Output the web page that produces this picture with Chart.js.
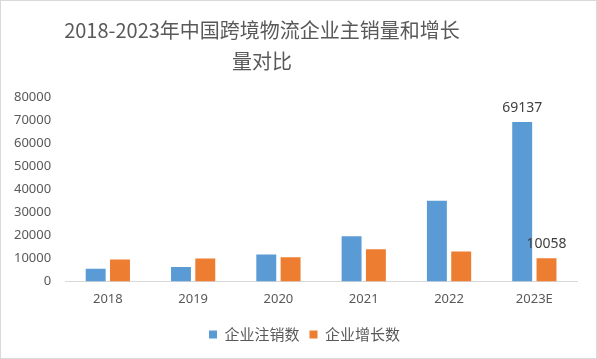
<!DOCTYPE html>
<html>
<head>
<meta charset="utf-8">
<script src="https://cdn.jsdelivr.net/npm/chart.js@4/dist/chart.umd.min.js"></script>
<style>
  body { margin: 0; background: #fff; }
  #wrap { position: relative; width: 597px; height: 359px; }
  #frame { position: absolute; left: 0; top: 0; width: 597px; height: 359px; box-sizing: border-box; border: 1px solid #d9d9d9; pointer-events: none; }
</style>
</head>
<body>
<div id="wrap">
  <canvas id="mainChart" width="597" height="359"></canvas>
  <div id="frame"></div>
</div>
<script>
const titleLines = ['2018-2023年中国跨境物流企业主销量和增长', '量对比'];
const years = ['2018', '2019', '2020', '2021', '2022', '2023E'];
const cancelled = [5500, 6200, 11700, 19600, 35000, 69137];
const added = [9500, 9900, 10500, 14000, 13000, 10058];
const yTicks = [0, 10000, 20000, 30000, 40000, 50000, 60000, 70000, 80000];

const grey = '#595959';
const numFont = "'Noto Sans', 'Noto Sans CJK SC', sans-serif";
const cjkFont = "'Noto Sans CJK SC', sans-serif";

// title is drawn by hand: in the reference it sits left of centre
const titlePlugin = {
    id: 'titleLines',
    afterDraw(chart) {
        const c = chart.ctx;
        c.save();
        c.fillStyle = grey;
        c.font = '20px ' + cjkFont;
        c.textAlign = 'center';
        c.textBaseline = 'middle';
        c.fillText(titleLines[0], 262, 30);
        c.fillText(titleLines[1], 262, 61);
        c.restore();
    }
};

// nudge the legend a little to the right, as in the reference
const legendShift = {
    id: 'legendShift',
    afterLayout(chart) {
        chart.legend.left += 16;
        chart.legend.right += 16;
    }
};

// value labels only on the last category
const lastLabels = {
    id: 'lastLabels',
    afterDatasetsDraw(chart) {
        const c = chart.ctx;
        const last = years.length - 1;
        c.save();
        c.fillStyle = '#404040';
        c.font = '14px ' + numFont;
        c.textAlign = 'center';
        c.textBaseline = 'bottom';
        chart.data.datasets.forEach((ds, i) => {
            const bar = chart.getDatasetMeta(i).data[last];
            c.fillText(String(ds.data[last]), bar.x, bar.y - 7);
        });
        c.restore();
    }
};

const ctx = document.getElementById('mainChart').getContext('2d');

const mainChart = new Chart(ctx, {
    type: 'bar',
    data: {
        labels: years,
        datasets: [{
            label: '企业注销数',
            data: cancelled,
            backgroundColor: '#5B9BD5',
            categoryPercentage: 0.57,
            barPercentage: 0.82
        }, {
            label: '企业增长数',
            data: added,
            backgroundColor: '#ED7D31',
            categoryPercentage: 0.57,
            barPercentage: 0.82
        }]
    },
    options: {
        responsive: false,
        animation: false,
        layout: {
            padding: { top: 97, left: 0, right: 20, bottom: 7 }
        },
        plugins: {
            legend: {
                position: 'bottom',
                labels: {
                    boxWidth: 8,
                    boxHeight: 8,
                    padding: 10,
                    color: grey,
                    font: { size: 15, family: cjkFont }
                }
            },
            tooltip: { enabled: false }
        },
        scales: {
            y: {
                min: 0,
                max: 80000,
                afterBuildTicks(axis) {
                    axis.ticks = yTicks.map(v => ({ value: v }));
                },
                grid: { display: false, drawTicks: false },
                border: { display: false },
                ticks: {
                    padding: 14,
                    color: grey,
                    font: { size: 13, family: numFont },
                    callback: v => String(v)
                }
            },
            x: {
                grid: { display: false, drawTicks: false },
                border: { display: true, color: '#d9d9d9', width: 1 },
                ticks: {
                    padding: 10,
                    color: grey,
                    font: { size: 13, family: numFont }
                }
            }
        }
    },
    plugins: [titlePlugin, legendShift, lastLabels]
});
</script>
</body>
</html>
